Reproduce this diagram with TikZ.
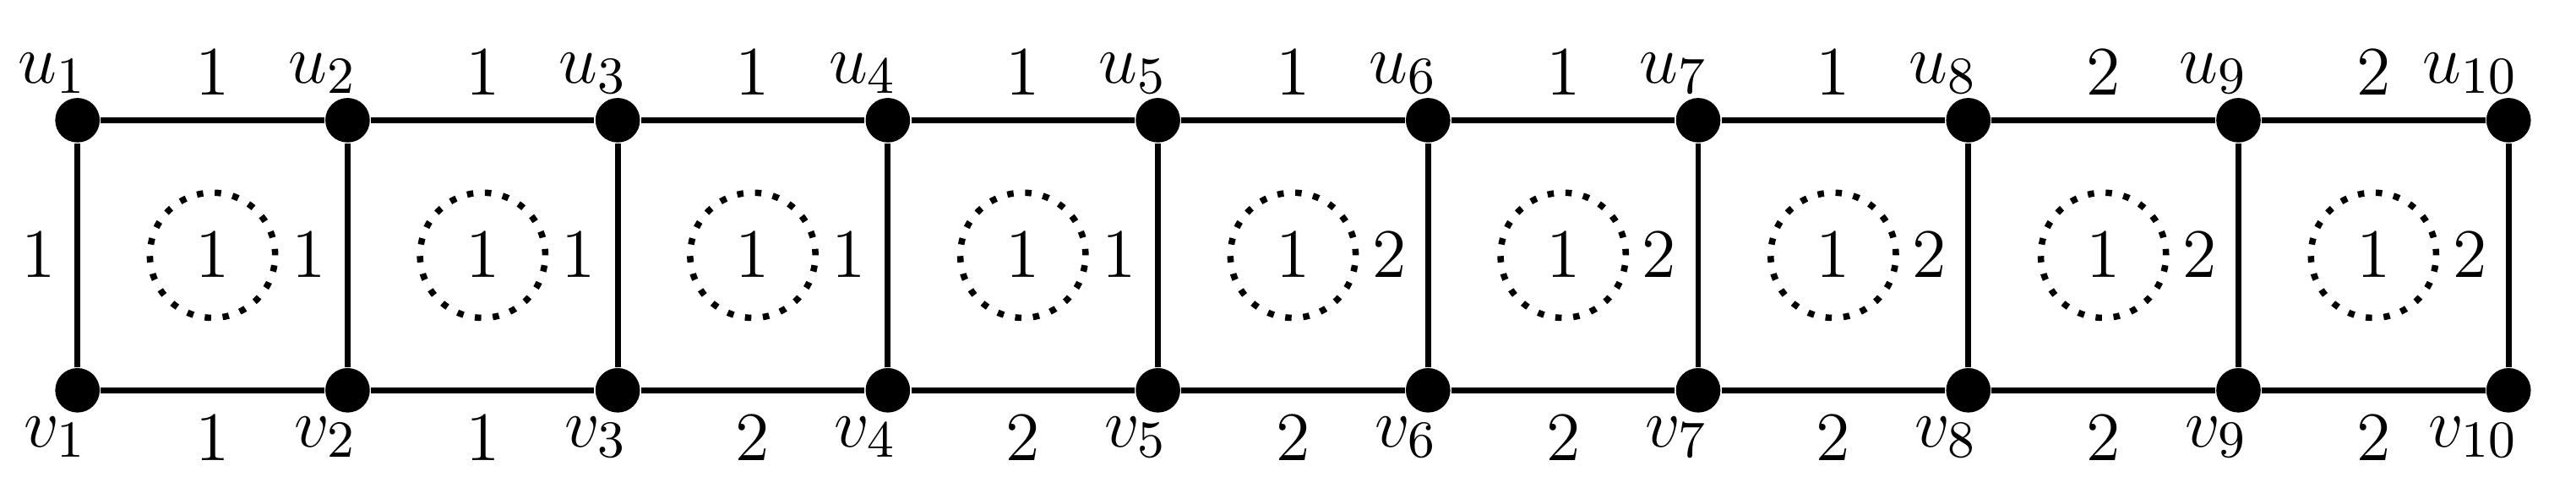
\documentclass[tikz,border=0pt]{standalone}
\usepackage{tikz}
\usetikzlibrary{positioning, calc}

\begin{document}
\begin{tikzpicture}[
    vertex/.style={circle, fill=black, inner sep=0pt, minimum size=0.27cm},
    edge/.style={line width=1pt},
    face/.style={circle, draw, dotted, line width=1.1pt, minimum size=0.76cm, inner sep=0pt, font=\fontsize{13}{15}\selectfont},
    lbl/.style={font=\fontsize{13}{15}\selectfont, inner sep=1pt}
]
\useasboundingbox (0,0) rectangle (15.63,3.06);

% Vertices
\foreach \i in {1,...,10} {
  \node[vertex] (u\i) at ({0.47+1.639*(\i-1)},2.33) {};
  \node[vertex] (v\i) at ({0.47+1.639*(\i-1)},0.69) {};
  \node[lbl, above left=0.02cm and -0.2cm of u\i] {$u_{\i}$};
  \node[lbl, below left=0.02cm and -0.2cm of v\i] {$v_{\i}$};
}

% Edges
\foreach \i/\j/\a/\b in {1/2/1/1, 2/3/1/1, 3/4/1/2, 4/5/1/2, 5/6/1/2, 6/7/1/2, 7/8/1/2, 8/9/2/2, 9/10/2/2} {
  \draw[edge] (u\i) -- node[lbl, above=0.1cm] {$\a$} (u\j);
  \draw[edge] (v\i) -- node[lbl, below=0.1cm] {$\b$} (v\j);
}
\foreach \i/\w in {1/1, 2/1, 3/1, 4/1, 5/1, 6/2, 7/2, 8/2, 9/2, 10/2} {
  \draw[edge] (u\i) -- node[lbl, left=0.08cm] {$\w$} (v\i);
}

% Faces
\foreach \i/\j in {1/2, 2/3, 3/4, 4/5, 5/6, 6/7, 7/8, 8/9, 9/10} {
  \node[face] (f\i) at ($(u\i)!0.5!(v\j)$) {$1$};
}
\end{tikzpicture}
\end{document}
